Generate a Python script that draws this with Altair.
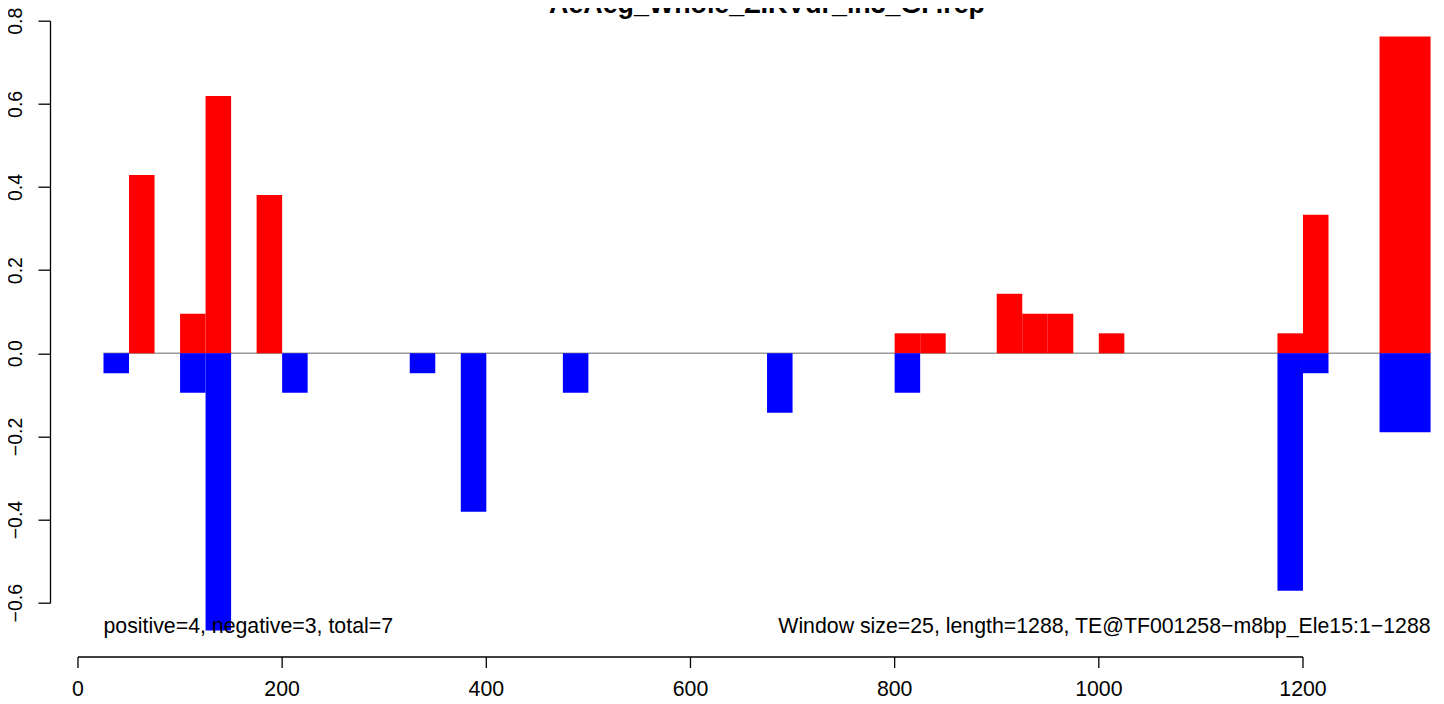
import altair as alt
import pandas as pd

# ---- data ----
pos_start = [50, 100, 125, 175, 800, 825, 900, 925, 950, 1000, 1175, 1200, 1275]
pos_end   = [75, 125, 150, 200, 825, 850, 925, 950, 975, 1025, 1200, 1225, 1325]
pos_value = [0.429, 0.095, 0.619, 0.381, 0.048, 0.048, 0.143, 0.095, 0.095, 0.048, 0.048, 0.333, 0.762]

neg_start = [25, 100, 125, 200, 325, 375, 475, 675, 800, 1175, 1200, 1275]
neg_end   = [50, 125, 150, 225, 350, 400, 500, 700, 825, 1200, 1225, 1325]
neg_value = [-0.048, -0.095, -0.667, -0.095, -0.048, -0.381, -0.095, -0.143, -0.095, -0.571, -0.048, -0.190]

x_ticks = [0, 200, 400, 600, 800, 1000, 1200]
y_ticks = [-0.6, -0.4, -0.2, 0.0, 0.2, 0.4, 0.6, 0.8]

title_text = "AeAeg_Whole_ZIKVdr_in3_GP.rep"
left_note = "positive=4, negative=3, total=7"
right_note = "Window size=25, length=1288, TE@TF001258\u2212m8bp_Ele15:1\u22121288"

FONT = "Liberation Sans"
FS = 21.3

pos_df = pd.DataFrame({"start": pos_start, "end": pos_end, "value": pos_value, "zero": 0.0})
neg_df = pd.DataFrame({"start": neg_start, "end": neg_end, "value": neg_value, "zero": 0.0})
tick_df = pd.DataFrame({"t": x_ticks})

xs = alt.Scale(domain=[-27.4, 1330.3], nice=False, zero=False)
ys = alt.Scale(domain=[-0.6, 0.8], nice=False, zero=False)

yaxis = alt.Axis(values=y_ticks, format=".1f", tickSize=12, labelAngle=270,
                 labelAlign="center", labelBaseline="alphabetic", labelPadding=16.5,
                 labelFontSize=19.5, labelFont=FONT, labelColor="black",
                 domainColor="black", tickColor="black", domainWidth=1.3, tickWidth=1.3,
                 grid=False, title=None, labelFlush=False, labelOverlap=False, labelBound=False)

zero_line = alt.Chart(pd.DataFrame({"a": [25], "b": [1325], "y": [0.0]})).mark_rule(
    color="#9a9a9a", strokeWidth=1.5).encode(
    x=alt.X("a:Q", scale=xs, axis=None), x2="b:Q",
    y=alt.Y("y:Q", scale=ys, axis=yaxis))

pos_bars = alt.Chart(pos_df).mark_rect(color="#ff0000").encode(
    x=alt.X("start:Q", scale=xs, axis=None), x2="end:Q",
    y=alt.Y("value:Q", scale=ys, axis=yaxis), y2="zero:Q")

neg_bars = alt.Chart(neg_df).mark_rect(color="#0000ff").encode(
    x=alt.X("start:Q", scale=xs, axis=None), x2="end:Q",
    y=alt.Y("value:Q", scale=ys, axis=yaxis), y2="zero:Q")

X_AXIS_Y = 636.3
xaxis_line = alt.Chart(pd.DataFrame({"a": [x_ticks[0]], "b": [x_ticks[-1]]})).mark_rule(
    color="black", strokeWidth=1.3).encode(
    x=alt.X("a:Q", scale=xs, axis=None), x2="b:Q", y=alt.value(X_AXIS_Y))

xaxis_ticks = alt.Chart(tick_df).mark_rule(color="black", strokeWidth=1.3).encode(
    x=alt.X("t:Q", scale=xs, axis=None), y=alt.value(X_AXIS_Y), y2=alt.value(X_AXIS_Y + 11))

xaxis_labels = alt.Chart(tick_df).mark_text(
    font=FONT, fontSize=FS, color="black", align="center", baseline="alphabetic").encode(
    x=alt.X("t:Q", scale=xs, axis=None), y=alt.value(674.8), text=alt.Text("t:Q", format="d"))

notes = alt.Chart(pd.DataFrame({"x": [25], "x2": [1325], "l": [left_note], "r": [right_note]}))
left_txt = notes.mark_text(font=FONT, fontSize=FS, color="black", align="left",
                           baseline="alphabetic").encode(
    x=alt.X("x:Q", scale=xs, axis=None), y=alt.value(612.3), text="l:N")
right_txt = notes.mark_text(font=FONT, fontSize=FS, color="black", align="right",
                            baseline="alphabetic").encode(
    x=alt.X("x2:Q", scale=xs, axis=None), y=alt.value(612.3), text="r:N")

title_mark = alt.Chart(pd.DataFrame({"t": [title_text]})).mark_text(
    font=FONT, fontSize=26.8, fontWeight="bold", color="black", align="center",
    baseline="alphabetic").encode(x=alt.value(717), y=alt.value(-7.7), text="t:N")

chart = alt.layer(zero_line, pos_bars, neg_bars, xaxis_line, xaxis_ticks, xaxis_labels,
                  left_txt, right_txt, title_mark).properties(
    width=1386, height=582,
    autosize=alt.AutoSizeParams(type="none"),
    padding={"left": 42, "top": 12.7, "right": 0, "bottom": 93.3},
    background="white",
).configure_view(strokeOpacity=0, strokeWidth=0)

chart.save("out.html", embed_options={"renderer": "svg", "actions": False})
